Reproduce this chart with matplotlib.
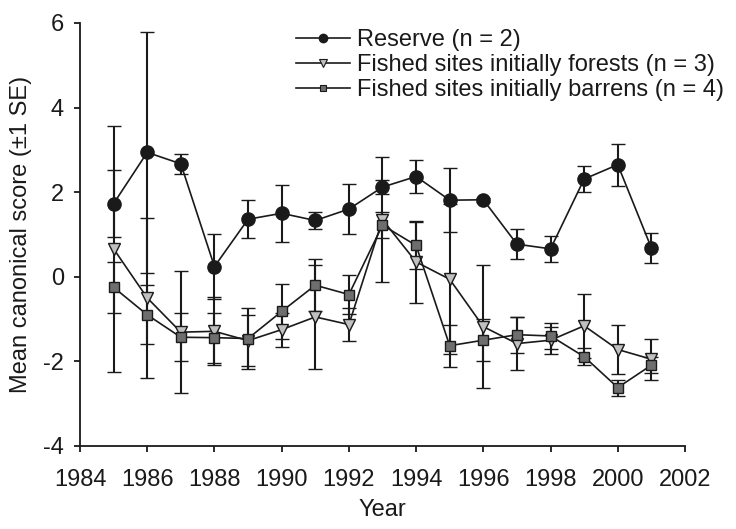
import numpy as np
import matplotlib.pyplot as plt
from matplotlib.lines import Line2D

plt.rcParams['font.family'] = ['Liberation Sans', 'DejaVu Sans']
plt.rcParams['axes.unicode_minus'] = False

# Survey years
years = list(range(1985, 2002))

# Reserve (n = 2)
reserve = [1.73, 2.94, 2.67, 0.24, 1.36, 1.50, 1.33, 1.60, 2.12, 2.37, 1.81, 1.82, 0.77, 0.66, 2.31, 2.65, 0.68]
reserve_se = [0.79, 2.85, 0.24, 0.76, 0.45, 0.67, 0.20, 0.59, 0.16, 0.38, 0.76, 0.05, 0.36, 0.30, 0.31, 0.50, 0.35]

# Fished sites initially forests (n = 3)
forests = [0.66, -0.50, -1.31, -1.29, -1.51, -1.25, -0.95, -1.13, 1.35, 0.35, -0.06, -1.18, -1.58, -1.50, -1.16, -1.72, -1.95]
forests_se = [2.90, 1.90, 1.44, 0.80, 0.61, 0.40, 1.22, 0.38, 1.47, 0.97, 1.77, 1.45, 0.63, 0.32, 0.76, 0.58, 0.49]

# Fished sites initially barrens (n = 4)
barrens = [-0.25, -0.90, -1.43, -1.44, -1.46, -0.82, -0.20, -0.42, 1.22, 0.74, -1.63, -1.50, -1.37, -1.40, -1.89, -2.62, -2.09]
barrens_se = [0.60, 0.70, 0.57, 0.59, 0.72, 0.65, 0.62, 0.45, 0.30, 0.56, 0.50, 0.50, 0.43, 0.31, 0.20, 0.19, 0.19]

labels = ['Reserve (n = 2)', 'Fished sites initially forests (n = 3)', 'Fished sites initially barrens (n = 4)']

ink = '#1a1a1a'
fig = plt.figure(figsize=(7.36, 5.29), dpi=100)
ax = fig.add_axes([0.1087, 0.157, 0.822, 0.7996])

common = dict(color=ink, ecolor=ink, elinewidth=1.5, capsize=5, capthick=1.5,
              linewidth=1.2, markeredgecolor=ink, markeredgewidth=1.0)

ax.errorbar(years, reserve, yerr=reserve_se, fmt='-o', markersize=9.5,
            markerfacecolor=ink, **common)
ax.errorbar(years, forests, yerr=forests_se, fmt='-v', markersize=9,
            markerfacecolor='#c0c0c0', **common)
ax.errorbar(years, barrens, yerr=barrens_se, fmt='-s', markersize=7.5,
            markerfacecolor='#6e6e6e', **common)

ax.set_xlim(1984, 2002)
ax.set_ylim(-4, 6)
ax.set_xticks(range(1984, 2003, 2))
ax.set_yticks(range(-4, 7, 2))
ax.spines['top'].set_visible(False)
ax.spines['right'].set_visible(False)
for s in ['left', 'bottom']:
    ax.spines[s].set_linewidth(1.3)
    ax.spines[s].set_color(ink)
ax.tick_params(direction='out', length=4.5, width=1.3, labelsize=17, colors=ink)
ax.tick_params(axis='x', pad=12)
ax.tick_params(axis='y', pad=7)

ax.set_xlabel('Year', fontsize=17, labelpad=6, color=ink)
ax.set_ylabel('Mean canonical score (±1 SE)', fontsize=17, labelpad=8, color=ink)

# legend handles without error bars
handles = [
    Line2D([], [], color=ink, lw=1.2, marker='o', ms=6, mfc=ink, mec=ink),
    Line2D([], [], color=ink, lw=1.2, marker='v', ms=6, mfc='#c0c0c0', mec=ink, mew=0.8),
    Line2D([], [], color=ink, lw=1.2, marker='s', ms=5, mfc='#6e6e6e', mec=ink, mew=0.8),
]
leg = ax.legend(handles, labels, loc='upper left', bbox_to_anchor=(0.337, 1.014), frameon=False,
                fontsize=17, handlelength=2.3, handletextpad=0.3,
                labelspacing=0.13, borderpad=0)
for t in leg.get_texts():
    t.set_color(ink)

fig.savefig('out.png', dpi=100)
